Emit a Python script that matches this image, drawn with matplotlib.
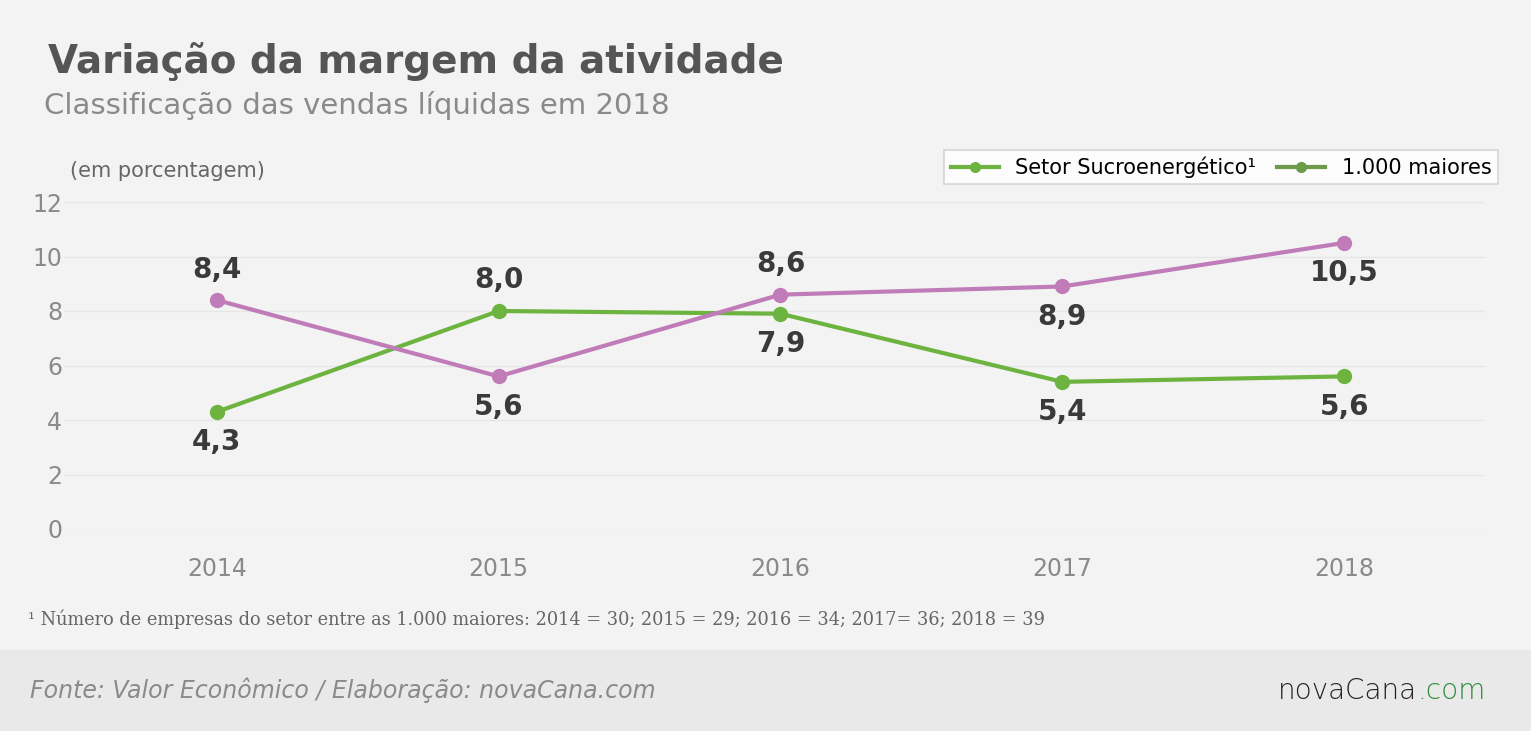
import matplotlib
matplotlib.use("Agg")
import matplotlib.pyplot as plt
from matplotlib.lines import Line2D
from matplotlib.patches import Rectangle

years = ["2014", "2015", "2016", "2017", "2018"]
setor = [4.3, 8.0, 7.9, 5.4, 5.6]
maiores = [8.4, 5.6, 8.6, 8.9, 10.5]
yticks = [0, 2, 4, 6, 8, 10, 12]

W, H = 1531, 731
fig = plt.figure(figsize=(W/100, H/100), dpi=100)
fig.patch.set_facecolor("#f3f3f3")
fig.patches.append(Rectangle((0, 0), 1, 81/H, transform=fig.transFigure, color="#e8e9e8", zorder=0))

ax = fig.add_axes([65/W, 1-529/H, (1485-65)/W, (529-202)/H])
ax.set_facecolor("#f3f3f3")
x = list(range(len(years)))
green = "#6db33f"
purple = "#c07cb8"
ax.plot(x, setor, color=green, lw=3, marker="o", ms=10, clip_on=False, zorder=3)
ax.plot(x, maiores, color=purple, lw=3, marker="o", ms=10, clip_on=False, zorder=3)
ax.set_xlim(-0.539, 4.5)
ax.set_ylim(0, 12)
ax.set_yticks(yticks)
ax.set_xticks(x)
ax.set_xticklabels(years)
ax.grid(axis="y", color="#e6e6e6", lw=1)
ax.set_axisbelow(True)
for s in ax.spines.values():
    s.set_visible(False)
ax.tick_params(length=0, labelsize=17, labelcolor="#8a8a8a")
ax.tick_params(axis="x", pad=20)
ax.tick_params(axis="y", pad=2)

def lab(i, v, above):
    ax.annotate(f"{v:.1f}".replace(".", ","), (i, v), xytext=(0, 22 if above else -22),
                textcoords="offset points", ha="center", va="center",
                fontsize=20, color="#3a3a3a", fontweight="semibold")

s_above = [False, True, False, False, False]
m_above = [True, False, True, False, False]
for i in x:
    lab(i, setor[i], s_above[i])
    lab(i, maiores[i], m_above[i])

handles = [Line2D([], [], color=green, lw=3, marker="o", ms=7),
           Line2D([], [], color="#6a9a4a", lw=3, marker="o", ms=7)]
leg = fig.legend(handles, ["Setor Sucroenergético¹", "1.000 maiores"], loc="upper right",
                 bbox_to_anchor=(1508/W, 1-140/H), ncol=2, fontsize=15, frameon=True,
                 fancybox=False, edgecolor="#cccccc", facecolor="white", handlelength=2.3,
                 columnspacing=1.0, borderpad=0.3)
leg.get_frame().set_linewidth(1.2)

fig.text(48/W, 1-62/H, "Variação da margem da atividade", fontsize=28, fontweight="bold",
         color="#555555", va="center")
fig.text(44/W, 1-106/H, "Classificação das vendas líquidas em 2018", fontsize=21,
         color="#8a8a8a", va="center")
fig.text(70/W, 1-171/H, "(em porcentagem)", fontsize=15, color="#666666", va="center")
fig.text(28/W, 1-619/H, "¹ Número de empresas do setor entre as 1.000 maiores: 2014 = 30; 2015 = 29; 2016 = 34; 2017= 36; 2018 = 39",
         fontsize=12.8, color="#666666", va="center", family="DejaVu Serif")
fig.text(30/W, 1-690/H, "Fonte: Valor Econômico / Elaboração: novaCana.com", fontsize=17,
         color="#8a8a8a", style="italic", va="center")
t = fig.text(1278/W, 1-691/H, "novaCana", fontsize=20, color="#222222", va="center", fontweight="light")
fig.canvas.draw()
bb = t.get_window_extent()
fig.text(bb.x1/W, 1-691/H, ".com", fontsize=20, color="#2e8b3a", va="center", fontweight="light")

fig.savefig("out.png", dpi=100, facecolor=fig.get_facecolor())
